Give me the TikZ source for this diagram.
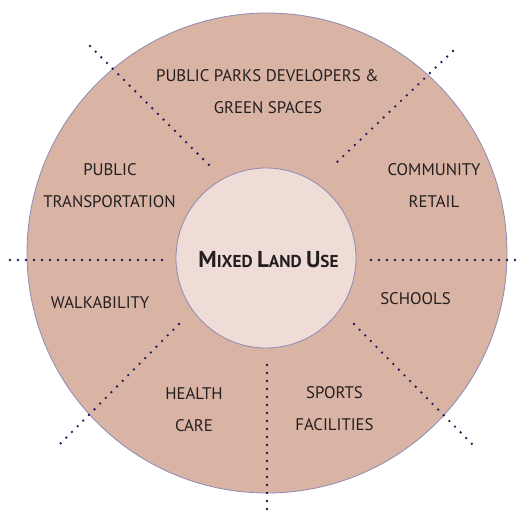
\documentclass[tikz,border=0pt]{standalone}
\usepackage{fontspec}
\setmainfont{PT Sans}
\usepackage{tikz}

\definecolor{ringfill}{HTML}{D9B3A3}
\definecolor{hubfill}{HTML}{EFDCD6}
\definecolor{rimline}{HTML}{8F8AB5}
\definecolor{dotnavy}{HTML}{1C1C5C}
\definecolor{inktext}{HTML}{231F20}

\begin{document}
\begin{tikzpicture}[x=1pt,y=-1pt,
  sector/.style={text=inktext,font=\fontsize{16.8}{16.8}\selectfont,inner sep=0pt},
  divider/.style={dotnavy,line width=2.6pt,line cap=round,dash pattern=on 0pt off 8pt}]

\useasboundingbox (0,0) rectangle (520,512);

% ring and hub
\draw[rimline,fill=ringfill,line width=0.8pt] (267,253) circle (240);
\draw[rimline,fill=hubfill,line width=0.8pt] (266,258) circle (90);

% dotted dividers
\coordinate (tl1) at (90,46);   \coordinate (tl2) at (211,167);
\coordinate (tr1) at (453,51);  \coordinate (tr2) at (333,166);
\coordinate (ml1) at (10,260);  \coordinate (ml2) at (163,260);
\coordinate (mr1) at (371,260); \coordinate (mr2) at (516,260);
\coordinate (bl1) at (179,324); \coordinate (bl2) at (59,445);
\coordinate (br1) at (354,324); \coordinate (br2) at (473,445);
\coordinate (bm1) at (267,365); \coordinate (bm2) at (267,510);
\draw[divider] (tl1) -- (tl2);
\draw[divider] (tr1) -- (tr2);
\draw[divider] (ml1) -- (ml2);
\draw[divider] (mr1) -- (mr2);
\draw[divider] (bl1) -- (bl2);
\draw[divider] (br1) -- (br2);
\draw[divider] (bm1) -- (bm2);

% centre
\node[text=inktext,inner sep=0pt] (hub) at (268.5,260)
  {\bfseries\fontsize{23}{23}\selectfont M\fontsize{17.2}{17.2}\selectfont IXED
   \fontsize{23}{23}\selectfont L\fontsize{17.2}{17.2}\selectfont AND
   \fontsize{23}{23}\selectfont U\fontsize{17.2}{17.2}\selectfont SE};

% sectors
\node[sector] (parks1) at (267.5,76)  {PUBLIC PARKS DEVELOPERS \&};
\node[sector] (parks2) at (268,108)   {GREEN SPACES};
\node[sector] (trans1) at (110,170)   {PUBLIC};
\node[sector] (trans2) at (109.5,202) {TRANSPORTATION};
\node[sector] (retail1) at (434,170)  {COMMUNITY};
\node[sector] (retail2) at (434,202)  {RETAIL};
\node[sector] (walk) at (100,303)     {WALKABILITY};
\node[sector] (school) at (415.5,299) {SCHOOLS};
\node[sector] (health1) at (194,394)  {HEALTH};
\node[sector] (health2) at (194,426)  {CARE};
\node[sector] (sport1) at (334.5,393) {SPORTS};
\node[sector] (sport2) at (334.5,425) {FACILITIES};

\end{tikzpicture}
\end{document}
